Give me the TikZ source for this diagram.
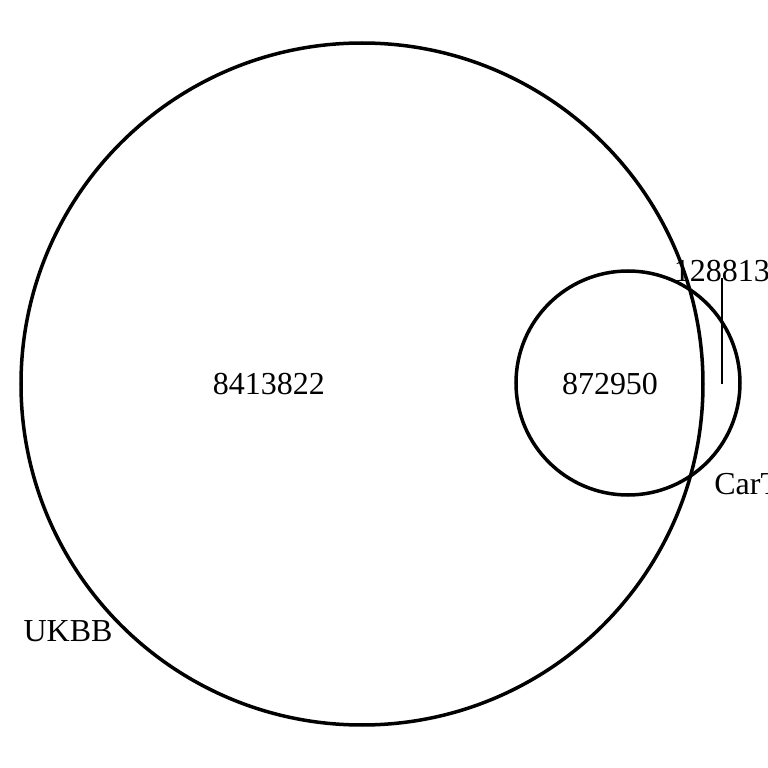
\documentclass[tikz,border=0pt]{standalone}
\usepackage{fontspec}
\setmainfont{Liberation Serif}
\usepackage{tikz}
\usetikzlibrary{positioning}

\begin{document}
\begin{tikzpicture}[x=0.5pt, y=0.5pt,
    setcircle/.style={draw, circle, line width=1.75pt, inner sep=0pt},
    lbl/.style={font=\fontsize{16}{19}\selectfont, inner sep=0pt},
    leader/.style={line width=0.75pt}]
  \useasboundingbox (0,0) rectangle (768,768);
  \clip (0,0) rectangle (768,768);

  \node[setcircle, minimum size=341pt] (ukbb) at (362,384) {};
  \node[setcircle, minimum size=112pt] (cart) at (628,385) {};

  \node[lbl] (only)  at (269,384) {8413822};
  \node[lbl] (both)  at (610,384) {872950};
  \node[lbl] (right) at (722,497) {128813};
  \coordinate (tip) at (722,384);
  \draw[leader, shorten <=-1.5pt] (right.base) -- (tip);

  \node[lbl, anchor=west] (cartname) at (714,284) {CarT};
  \node[lbl] (ukbbname) at (68,137) {UKBB};
\end{tikzpicture}
\end{document}
